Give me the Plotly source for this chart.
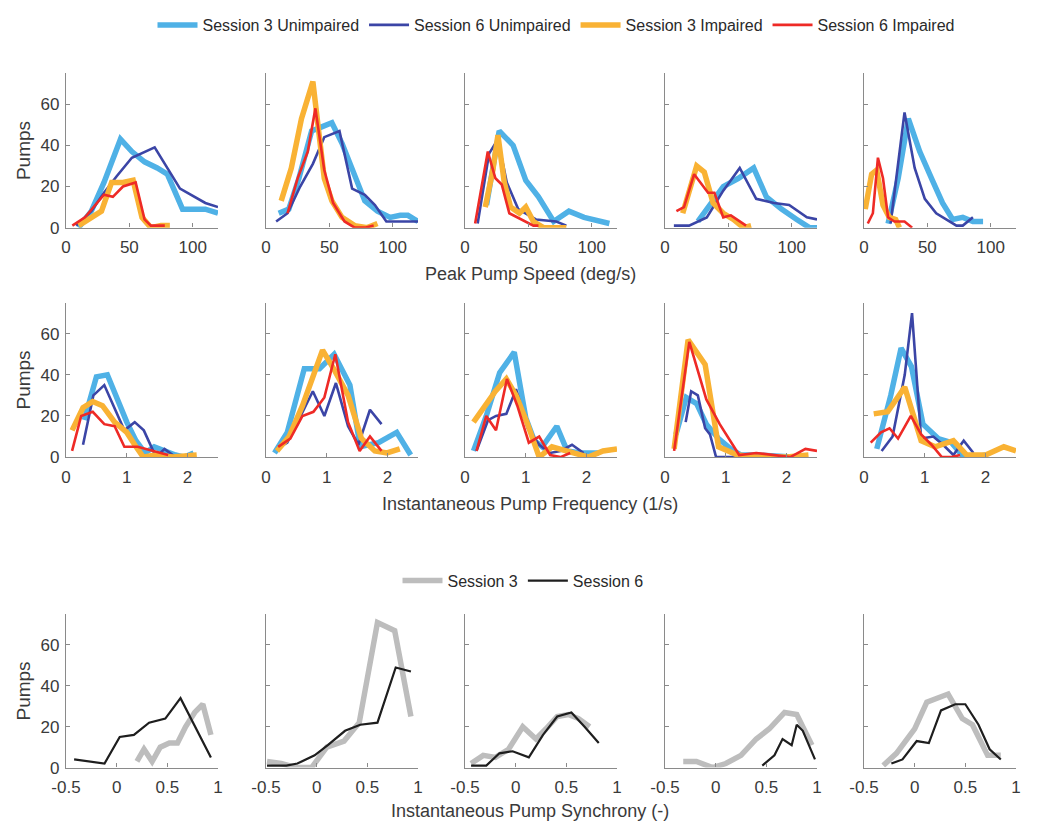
import plotly.graph_objects as go

# ---------------- DATA ----------------
series_names = ["Session 3 Unimpaired", "Session 6 Unimpaired", "Session 3 Impaired", "Session 6 Impaired"]
sync_names = ["Session 3", "Session 6"]

row_titles = ["Peak Pump Speed (deg/s)", "Instantaneous Pump Frequency (1/s)", "Instantaneous Pump Synchrony (-)"]
y_title = "Pumps"

speed_ticks = [0, 50, 100]
freq_ticks = [0, 1, 2]
sync_ticks = [-0.5, 0, 0.5, 1]
sync_tick_labels = ["-0.5", "0", "0.5", "1"]
pump_ticks = [0, 20, 40, 60]

# Row 1: Peak pump speed, one list per subject panel
speed_s3u_x = [[10, 20, 30, 43, 52, 62, 72, 80, 92, 100, 110, 120],
               [10, 18, 26, 36, 44, 52, 60, 68, 78, 88, 98, 106, 112, 120],
               [17, 27, 38, 48, 58, 70, 82, 94, 114],
               [26, 36, 46, 58, 70, 80, 92, 104, 114, 120],
               [19, 27, 35, 44, 54, 62, 70, 78, 86, 94]]
speed_s3u_y = [[0, 8, 22, 43, 37, 32, 29, 26, 9, 9, 9, 7],
               [7, 9, 24, 47, 49, 51, 41, 28, 13, 8, 5, 6, 6, 3],
               [11, 47, 40, 23, 15, 3, 8, 5, 2],
               [3, 12, 20, 24, 29, 15, 9, 4, 0, 0],
               [2, 24, 53, 37, 23, 12, 4, 5, 3, 3]]

speed_s6u_x = [[8, 20, 30, 40, 52, 70, 90, 110, 120],
               [8, 17, 27, 37, 46, 58, 68, 78, 86, 95, 120],
               [10, 19, 26, 33, 42, 56, 72, 80],
               [7, 19, 33, 46, 59, 72, 86, 98, 112, 120],
               [21, 32, 40, 48, 57, 67, 73, 78, 86]]
speed_s6u_y = [[1, 8, 17, 25, 34, 39, 19, 12, 10],
               [3, 7, 20, 31, 44, 47, 19, 16, 11, 3, 3],
               [2, 36, 43, 22, 9, 4, 3, 1],
               [1, 1, 5, 18, 29, 14, 12, 11, 5, 4],
               [2, 56, 29, 14, 7, 3, 1, 1, 5]]

speed_s3i_x = [[10, 20, 28, 36, 45, 53, 60, 67, 75, 82],
               [12, 20, 28, 37, 41, 46, 52, 60, 70, 80, 88],
               [16, 22, 26, 31, 36, 43, 48, 54, 62, 80],
               [14, 25, 31, 38, 46, 54, 62, 68],
               [1, 6, 10, 15, 20, 25, 28]]
speed_s3i_y = [[1, 5, 8, 22, 22, 23, 5, 0, 1, 1],
               [13, 29, 53, 71, 50, 24, 13, 5, 1, 0, 2],
               [10, 28, 45, 22, 10, 7, 10, 3, 0, 0],
               [7, 30, 27, 12, 7, 4, 0, 1],
               [9, 26, 28, 11, 5, 4, 0]]

speed_s6i_x = [[5, 15, 30, 37, 45, 55, 62, 67, 78],
               [17, 25, 33, 39, 46, 53, 62, 70, 78, 85],
               [8, 18, 24, 29, 35, 44, 54, 58],
               [9, 15, 23, 34, 39, 46, 52, 57, 64],
               [3, 7, 11, 15, 19, 24, 32, 38]]
speed_s6i_y = [[1, 5, 16, 15, 20, 22, 4, 1, 1],
               [7, 24, 37, 58, 28, 12, 3, 0, 0, 1],
               [2, 37, 24, 21, 7, 4, 1, 1],
               [8, 10, 26, 17, 17, 5, 6, 4, 1],
               [2, 7, 34, 24, 5, 3, 3, 0]]

# Row 2: Instantaneous pump frequency
freq_s3u_x = [[0.3, 0.5, 0.68, 0.85, 1.0, 1.15, 1.3, 1.45, 1.6, 1.8, 1.95, 2.1],
              [0.14, 0.35, 0.63, 0.88, 1.12, 1.38, 1.55, 1.85, 2.15, 2.38],
              [0.14, 0.35, 0.57, 0.81, 1.0, 1.14, 1.27, 1.51, 1.68, 1.9, 2.2],
              [0.18, 0.35, 0.52, 0.68, 0.88, 1.08, 1.25, 1.5, 2.1],
              [0.21, 0.44, 0.61, 0.78, 0.97, 1.22, 1.44, 1.64, 1.83, 2.0]]
freq_s3u_y = [[18, 39, 40, 27, 17, 8, 2, 5, 3, 1, 0, 2],
              [2, 12, 43, 43, 50, 35, 5, 7, 12, 1],
              [3, 20, 41, 51, 19, 8, 5, 15, 3, 2, 2],
              [11, 29, 26, 16, 9, 4, 1, 1, 0],
              [4, 30, 53, 44, 16, 9, 7, 0, 0, 1]]

freq_s6u_x = [[0.28, 0.45, 0.63, 0.82, 0.96, 1.13, 1.28, 1.48, 1.62, 1.8],
              [0.18, 0.35, 0.57, 0.77, 0.96, 1.15, 1.35, 1.52, 1.71, 1.9],
              [0.19, 0.38, 0.51, 0.68, 0.84, 1.03, 1.22, 1.4, 1.57, 1.76, 1.95],
              [0.34, 0.43, 0.54, 0.66, 0.74, 0.84, 1.2],
              [0.29, 0.47, 0.67, 0.79, 0.94, 1.14, 1.3, 1.47, 1.64, 1.8]]
freq_s6u_y = [[6, 30, 35, 22, 13, 17, 13, 0, 4, 0],
              [4, 7, 20, 32, 20, 36, 15, 6, 23, 16],
              [3, 18, 20, 21, 33, 14, 6, 2, 3, 6, 2],
              [17, 32, 30, 14, 11, 0, 0],
              [3, 10, 40, 70, 9, 10, 6, 1, 8, 2]]

freq_s3i_x = [[0.1, 0.28, 0.44, 0.6, 0.8, 1.0, 1.13, 1.27, 1.46, 1.76, 2.15],
              [0.18, 0.38, 0.6, 0.93, 1.13, 1.35, 1.57, 1.79, 1.99, 2.2],
              [0.14, 0.32, 0.5, 0.68, 0.84, 1.03, 1.22, 1.43, 1.68, 2.03, 2.27, 2.5],
              [0.15, 0.38, 0.66, 0.88, 1.19, 1.5, 2.0, 2.36],
              [0.16, 0.39, 0.67, 0.94, 1.17, 1.47, 1.69, 2.0, 2.3, 2.5]]
freq_s3i_y = [[13, 24, 27, 25, 17, 12, 6, 0, 1, 0, 1],
              [3, 10, 25, 52, 42, 30, 9, 3, 2, 4],
              [17, 25, 32, 38, 30, 16, 0, 5, 3, 0, 3, 4],
              [4, 57, 45, 5, 1, 0, 0, 1],
              [21, 22, 34, 8, 5, 8, 1, 1, 5, 3]]

freq_s6i_x = [[0.1, 0.25, 0.44, 0.63, 0.8, 0.96, 1.18, 1.43, 1.68],
              [0.2, 0.4, 0.6, 0.78, 0.96, 1.14, 1.35, 1.54, 1.71, 1.9],
              [0.19, 0.35, 0.51, 0.69, 0.86, 1.05, 1.22, 1.4, 1.57, 1.73],
              [0.15, 0.4, 0.68, 0.9, 1.22, 1.5, 2.06, 2.31, 2.5],
              [0.11, 0.28, 0.42, 0.56, 0.77, 0.94, 1.11, 1.28, 1.44, 1.58]]
freq_s6i_y = [[3, 20, 22, 16, 15, 5, 5, 3, 1],
              [5, 9, 20, 22, 29, 50, 17, 3, 10, 3],
              [3, 20, 13, 38, 25, 7, 10, 1, 0, 2],
              [3, 56, 28, 16, 1, 2, 0, 4, 3],
              [7, 12, 14, 9, 20, 11, 6, 0, 0, 1]]

# Row 3: Instantaneous pump synchrony
sync_s3_x = [[0.2, 0.27, 0.35, 0.43, 0.52, 0.6, 0.68, 0.77, 0.85, 0.93],
             [-0.49, -0.35, -0.2, -0.05, 0.1, 0.27, 0.42, 0.6, 0.77, 0.93],
             [-0.44, -0.32, -0.2, -0.07, 0.07, 0.2, 0.3, 0.41, 0.52, 0.62, 0.73],
             [-0.32, -0.19, -0.03, 0.1, 0.25, 0.4, 0.53, 0.68, 0.8, 0.95],
             [-0.31, -0.18, 0.0, 0.12, 0.33, 0.47, 0.57, 0.72, 0.85]]
sync_s3_y = [[3, 9, 3, 10, 12, 12, 20, 27, 31, 16],
             [3, 2, 0, 0, 10, 13, 22, 71, 67, 25],
             [2, 6, 5, 9, 20, 14, 19, 25, 26, 24, 20],
             [3, 3, 0, 2, 6, 14, 19, 27, 26, 11],
             [1, 7, 19, 32, 36, 24, 21, 6, 6]]

sync_s6_x = [[-0.42, -0.12, 0.03, 0.17, 0.32, 0.48, 0.63, 0.93],
             [-0.49, -0.3, -0.19, -0.02, 0.11, 0.28, 0.43, 0.6, 0.78, 0.93],
             [-0.44, -0.29, -0.16, -0.03, 0.13, 0.27, 0.41, 0.55, 0.68, 0.82],
             [0.46, 0.58, 0.66, 0.75, 0.8, 0.86, 0.98],
             [-0.23, -0.12, 0.02, 0.14, 0.26, 0.4, 0.5, 0.63, 0.74, 0.85]]
sync_s6_y = [[4, 2, 15, 16, 22, 24, 34, 5],
             [1, 1, 2, 6, 11, 18, 21, 22, 49, 47],
             [1, 1, 7, 8, 5, 16, 25, 27, 20, 12],
             [1, 6, 14, 11, 21, 18, 4],
             [2, 4, 13, 12, 28, 31, 31, 21, 9, 4]]

# ---------------- STYLE ----------------
# The page body has an 8px margin, so the figure is sized to fit inside the window
# and all target pixel positions (window coordinates) are shifted by that offset.
OFF = 8
W, H = 1064 - 2 * OFF, 831 - 2 * OFF
col_left = [66, 266, 465, 665, 864]
col_w = 152
row_top = [65, 297, 612]
row_bot = [221, 453, 767]
xranges = [[0, 120], [0, 2.5], [-0.5, 1.0]]
yrange = [0, 75]


def px_x(p):
    return (p - OFF) / W


def px_y(p):
    return 1 - (p - OFF) / H


colors4 = ["#4FB1E6", "#3B45A6", "#F9B234", "#EE2A26"]
widths4 = [5.5, 2.6, 5.5, 2.6]
colors2 = ["#BDBDBD", "#1E1E1E"]
widths2 = [5.5, 2.2]

FONT = "Liberation Sans, Arial, sans-serif"
axis_col = "#8A8A8A"
tick_font = dict(family=FONT, size=17, color="#3A3A3A")
title_font = dict(family=FONT, size=18, color="#3A3A3A")

fig = go.Figure()

row_series = [
    [(speed_s3u_x, speed_s3u_y), (speed_s6u_x, speed_s6u_y), (speed_s3i_x, speed_s3i_y), (speed_s6i_x, speed_s6i_y)],
    [(freq_s3u_x, freq_s3u_y), (freq_s6u_x, freq_s6u_y), (freq_s3i_x, freq_s3i_y), (freq_s6i_x, freq_s6i_y)],
    [(sync_s3_x, sync_s3_y), (sync_s6_x, sync_s6_y)],
]

layout = {}
for r in range(3):
    for c in range(5):
        idx = r * 5 + c + 1
        xa = "x" if idx == 1 else f"x{idx}"
        ya = "y" if idx == 1 else f"y{idx}"
        sers = row_series[r]
        for s, (xs, ys) in enumerate(sers):
            if r < 2:
                name, color, width, leg = series_names[s], colors4[s], widths4[s], "legend"
                show = (r == 0 and c == 0)
            else:
                name, color, width, leg = sync_names[s], colors2[s], widths2[s], "legend2"
                show = (c == 0)
            fig.add_trace(go.Scatter(
                x=xs[c], y=ys[c], mode="lines", name=name,
                line=dict(color=color, width=width),
                showlegend=show, legend=leg, xaxis=xa, yaxis=ya,
                hoverinfo="x+y+name"))
        if r == 0:
            tv, tt = speed_ticks, [str(t) for t in speed_ticks]
        elif r == 1:
            tv, tt = freq_ticks, [str(t) for t in freq_ticks]
        else:
            tv, tt = sync_ticks, sync_tick_labels
        xkey = "xaxis" if idx == 1 else f"xaxis{idx}"
        ykey = "yaxis" if idx == 1 else f"yaxis{idx}"
        layout[xkey] = dict(
            domain=[px_x(col_left[c]), px_x(col_left[c] + col_w)],
            anchor=ya, range=xranges[r], tickvals=tv, ticktext=tt,
            showline=True, linecolor=axis_col, linewidth=1.3,
            ticks="inside", ticklen=4, tickcolor=axis_col, ticklabelstandoff=4,
            showgrid=False, zeroline=False, tickfont=tick_font, fixedrange=True,
            automargin=False)
        layout[ykey] = dict(
            domain=[px_y(row_bot[r]), px_y(row_top[r])],
            anchor=xa, range=yrange, tickvals=pump_ticks,
            showticklabels=(c == 0),
            showline=True, linecolor=axis_col, linewidth=1.3,
            ticks="inside", ticklen=4, tickcolor=axis_col, ticklabelstandoff=2,
            showgrid=False, zeroline=False, tickfont=tick_font, fixedrange=True,
            automargin=False)
        if c == 0:
            layout[ykey]["title"] = dict(text=y_title, font=dict(family=FONT, size=19, color="#3A3A3A"), standoff=4)

title_y = [268, 500, 811]
annotations = []
for r in range(3):
    annotations.append(dict(
        text=row_titles[r], x=px_x(530), y=px_y(title_y[r]), xref="paper", yref="paper",
        showarrow=False, xanchor="center", yanchor="middle", font=title_font))

fig.update_layout(
    **layout,
    width=W, height=H,
    margin=dict(l=0, r=0, t=0, b=0),
    paper_bgcolor="white", plot_bgcolor="white",
    annotations=annotations,
    legend=dict(orientation="h", x=px_x(556), y=px_y(16), xanchor="center", yanchor="middle",
                font=dict(family=FONT, size=16, color="#2A2A2A"),
                itemwidth=40, bgcolor="rgba(0,0,0,0)"),
    legend2=dict(orientation="h", x=px_x(523), y=px_y(578), xanchor="center", yanchor="middle",
                 font=dict(family=FONT, size=16, color="#2A2A2A"),
                 itemwidth=40, bgcolor="rgba(0,0,0,0)"),
)

fig.write_html("out.html")
